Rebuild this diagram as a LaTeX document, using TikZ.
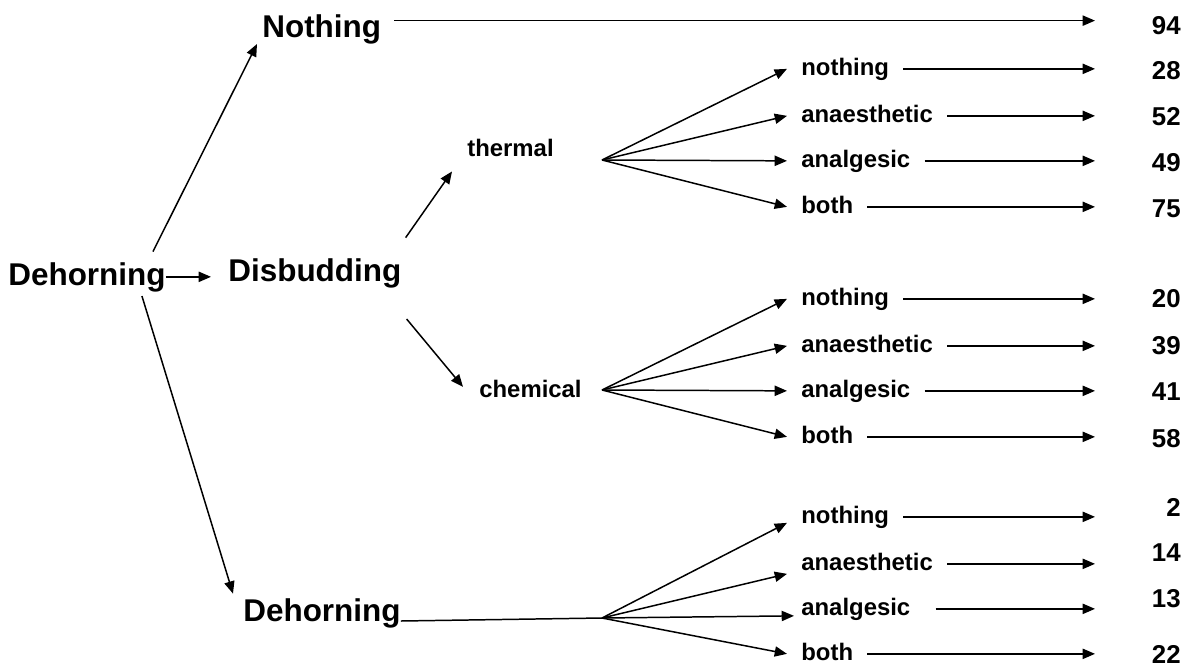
\documentclass[tikz,border=0pt]{standalone}
\usepackage{fontspec}
\setmainfont{Liberation Sans}
\usetikzlibrary{arrows.meta}
\begin{document}
\begin{tikzpicture}[x=0.02cm,y=-0.02cm,
    big/.style={font=\bfseries\fontsize{17.9}{20}\selectfont,inner sep=0pt,
      text height=13.1pt,text depth=3.8pt,anchor=base west},
    lbl/.style={font=\bfseries\fontsize{13.6}{16}\selectfont,inner xsep=0.28cm,
      inner ysep=0pt,text height=9.9pt,text depth=2.9pt,anchor=base west},
    val/.style={font=\bfseries\fontsize{14.7}{17}\selectfont,inner sep=0pt,anchor=east},
    arr/.style={-{Triangle[length=7pt,width=5.8pt]},line width=0.85pt}]
  \useasboundingbox (0,0) rectangle (1186,666);
  % main branches
  \draw
    (8,285) node[big] (root){Dehorning}
    (262,37) node[big] (top){Nothing}
    (228,281) node[big] (disb){Disbudding}
    (243,621) node[big] (dbot){Dehorning}
    (453,156) node[lbl] (therm){thermal}
    (465,397) node[lbl] (chem){chemical};
  % treatment labels
  \draw
    (787,75) node[lbl] (tn){nothing}
    (787,122) node[lbl] (ta){anaesthetic}
    (787,167) node[lbl] (tg){analgesic}
    (787,213) node[lbl] (tb){both}
    (787,305) node[lbl] (cn){nothing}
    (787,352) node[lbl] (ca){anaesthetic}
    (787,397) node[lbl] (cg){analgesic}
    (787,443) node[lbl] (cb){both}
    (787,523) node[lbl] (dn){nothing}
    (787,570) node[lbl] (da){anaesthetic}
    (787,615) node[lbl] (dg){analgesic}
    (787,660) node[lbl] (db){both};
  % counts
  \draw
    (1181,26) node[val] (v94){94}
    (1181,71) node[val] (v28){28}
    (1181,117) node[val] (v52){52}
    (1181,163) node[val] (v49){49}
    (1181,209) node[val] (v75){75}
    (1181,299) node[val] (v20){20}
    (1181,346) node[val] (v39){39}
    (1181,392) node[val] (v41){41}
    (1181,439) node[val] (v58){58}
    (1181,507) node[val] (v2){2}
    (1181,553) node[val] (v14){14}
    (1181,599) node[val] (v13){13}
    (1181,654) node[val] (v22){22};
  \coordinate (fanT) at (602,160);
  \coordinate (fanC) at (602,390);
  \coordinate (fanD) at (602,618);
  \coordinate (tipx) at (1095,0);
  \draw[line width=0.85pt] (dbot.base east) -- (fanD);
  \begin{scope}[arr]
    \draw ([shift={(-13,-10)}]root.north east) -- ([shift={(-5,0)}]top.south west);
    \draw[shorten >=0.34cm] (root.east) -- (root.east -| disb.west);
    \draw ([shift={(-24,4)}]root.south east) -- ([shift={(-10,-4)}]dbot.north west);
    \draw ([shift={(4,-20)}]disb.north east) -- ([shift={(-1,10)}]therm.south west);
    \draw ([shift={(5,31)}]disb.south east) -- ([shift={(-2,-4)}]chem.west);
    \draw ([shift={(13,7)}]top.north east) coordinate (topst) -- (topst -| tipx);
    \draw (fanT) -- (tn.west);
    \draw (fanT) -- (ta.west);
    \draw (fanT) -- (tg.west);
    \draw (fanT) -- (tb.west);
    \draw (fanC) -- (cn.west);
    \draw (fanC) -- (ca.west);
    \draw (fanC) -- (cg.west);
    \draw (fanC) -- (cb.west);
    \draw (fanD) -- ([shift={(0,6)}]dn.west);
    \draw (fanD) -- ([shift={(0,10)}]da.west);
    \draw (fanD) -- ([shift={(7,7)}]dg.west);
    \draw (fanD) -- (db.west);
    \draw (tn.east) -- (tn.east -| tipx);
    \draw (ta.east) -- (ta.east -| tipx);
    \draw (tg.east) -- (tg.east -| tipx);
    \draw (tb.east) -- (tb.east -| tipx);
    \draw (cn.east) -- (cn.east -| tipx);
    \draw (ca.east) -- (ca.east -| tipx);
    \draw (cg.east) -- (cg.east -| tipx);
    \draw (cb.east) -- (cb.east -| tipx);
    \draw (dn.east) -- (dn.east -| tipx);
    \draw (da.east) -- (da.east -| tipx);
    \draw[shorten <=0.22cm] (dg.east) -- (dg.east -| tipx);
    \draw (db.east) -- (db.east -| tipx);
  \end{scope}
\end{tikzpicture}
\end{document}
